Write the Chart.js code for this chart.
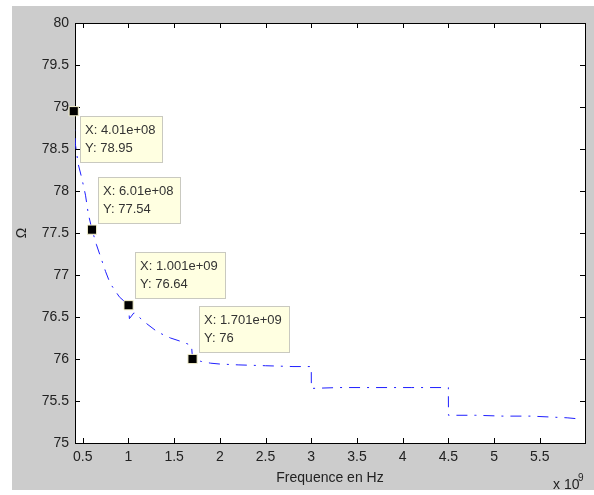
<!DOCTYPE html>
<html>
<head>
<meta charset="utf-8">
<script src="https://cdn.jsdelivr.net/npm/chart.js@4.4.1/dist/chart.umd.min.js"></script>
<style>
html, body { margin: 0; padding: 0; background: #fff; }
#wrap { position: relative; width: 594px; height: 495px; }
</style>
</head>
<body>
<div id="wrap"><canvas id="myChart" width="594" height="495"></canvas></div>
<script>
// frequency (Hz) and value
const freqHz = [
    4.01e8, 4.2e8, 4.5e8, 4.9e8, 5.3e8, 5.6e8, 6.01e8, 6.5e8, 7.0e8, 7.5e8,
    8.0e8, 9.0e8, 1.001e9, 1.01e9, 1.06e9, 1.2e9, 1.32e9, 1.46e9, 1.6e9, 1.69e9,
    1.701e9, 1.8e9, 1.9e9, 2.0e9, 2.2e9, 2.5e9, 2.8e9, 3.0e9, 3.001e9, 3.3e9,
    3.7e9, 4.1e9, 4.5e9, 4.501e9, 4.8e9, 5.1e9, 5.4e9, 5.6e9, 5.8e9, 5.9e9
]
const omega = [
    78.95, 78.55, 78.32, 78.15, 77.95, 77.73, 77.54, 77.36, 77.2, 77.04,
    76.9, 76.74, 76.64, 76.48, 76.55, 76.42, 76.32, 76.25, 76.2, 76.16,
    76.0, 75.97, 75.95, 75.94, 75.93, 75.92, 75.91, 75.91, 75.65, 75.66,
    75.66, 75.66, 75.66, 75.33, 75.33, 75.32, 75.32, 75.31, 75.3, 75.29
]

// data tips
const tipFreq = [4.01e8, 6.01e8, 1.001e9, 1.701e9]
const tipValue = [78.95, 77.54, 76.64, 76]

// tick positions
const xTicks = [0.5e9, 1e9, 1.5e9, 2e9, 2.5e9, 3e9, 3.5e9, 4e9, 4.5e9, 5e9, 5.5e9]
const yTicks = [75, 75.5, 76, 76.5, 77, 77.5, 78, 78.5, 79, 79.5, 80]

const xMin = 0.415e9
const xMax = 5.995e9
const yMin = 75
const yMax = 80

const FONT = '"Liberation Sans", Arial, sans-serif'
const TEXT = '#222'

function expLabel(v) {
    // 4.01e+08 style
    const parts = v.toExponential().split('e')
    const sign = parts[1][0]
    let e = parts[1].slice(1)
    if (e.length < 2) e = '0' + e
    return parts[0] + 'e' + sign + e
}

const matlabLook = {
    id: 'matlabLook',
    beforeDraw(chart) {
        const c = chart.ctx
        const a = chart.chartArea
        c.save()
        c.fillStyle = '#cccccc'
        c.fillRect(12, 6, 582, 484)
        c.fillStyle = '#ffffff'
        c.fillRect(a.left, a.top, a.right - a.left, a.bottom - a.top)
        c.restore()
    },
    beforeDatasetsDraw(chart) {
        const c = chart.ctx
        const a = chart.chartArea
        const xs = chart.scales.x
        const ys = chart.scales.y
        c.save()
        c.strokeStyle = '#000'
        c.lineWidth = 1
        c.beginPath()
        xs.ticks.forEach(t => {
            const px = Math.round(xs.getPixelForValue(t.value)) + 0.5
            c.moveTo(px, a.bottom); c.lineTo(px, a.bottom - 5)
            c.moveTo(px, a.top); c.lineTo(px, a.top + 5)
        })
        ys.ticks.forEach(t => {
            const py = Math.round(ys.getPixelForValue(t.value)) + 0.5
            c.moveTo(a.left, py); c.lineTo(a.left + 5, py)
            c.moveTo(a.right, py); c.lineTo(a.right - 5, py)
        })
        c.stroke()
        c.strokeRect(Math.round(a.left) + 0.5, Math.round(a.top) + 0.5,
            Math.round(a.right - a.left), Math.round(a.bottom - a.top))
        c.restore()
    },
    afterDatasetsDraw(chart) {
        const c = chart.ctx
        const xs = chart.scales.x
        const ys = chart.scales.y
        c.save()
        c.font = '13px ' + FONT
        c.textBaseline = 'middle'
        tipFreq.forEach((f, i) => {
            const px = xs.getPixelForValue(f)
            const py = ys.getPixelForValue(tipValue[i])
            const l1 = 'X: ' + expLabel(f)
            const l2 = 'Y: ' + tipValue[i]
            const w = Math.round(Math.max(c.measureText(l1).width, c.measureText(l2).width) + 12)
            const h = 46
            const bx = Math.round(px + 6)
            const by = i === 0 ? Math.round(py + 5) : Math.round(py - 7 - h)
            c.fillStyle = '#ffffe1'
            c.fillRect(bx, by, w, h)
            c.strokeStyle = '#c9c9c0'
            c.strokeRect(bx + 0.5, by + 0.5, w, h)
            c.fillStyle = '#333'
            c.fillText(l1, bx + 5, by + 14)
            c.fillText(l2, bx + 5, by + 32)
        })
        c.restore()
    },
    afterDraw(chart) {
        const c = chart.ctx
        c.save()
        c.fillStyle = TEXT
        c.textBaseline = 'alphabetic'
        c.font = '14px ' + FONT
        c.fillText('x 10', 553, 489)
        c.font = '10px ' + FONT
        c.fillText('9', 578, 481)
        c.restore()
    }
}

const ctx = document.getElementById('myChart').getContext('2d')

const myChart = new Chart(ctx, {
    type: 'line',
    data: {
        datasets: [
            {
                label: 'tips',
                data: tipFreq.map((f, i) => ({ x: f, y: tipValue[i] })),
                showLine: false,
                pointStyle: 'rect',
                pointRadius: 6.5,
                backgroundColor: '#000',
                borderColor: '#f7f3cf',
                borderWidth: 1,
                clip: false,
                order: 0,
            },
            {
                label: 'curve',
                data: freqHz.map((f, i) => ({ x: f, y: omega[i] })),
                borderColor: '#1f1fff',
                borderWidth: 1,
                borderDash: [11, 7, 2, 7],
                pointRadius: 0,
                tension: 0,
                fill: false,
                order: 1,
            },
        ],
    },
    options: {
        responsive: false,
        animation: false,
        events: [],
        layout: { padding: { left: 0, top: 23, right: 9, bottom: 0 }, autoPadding: false },
        plugins: { legend: { display: false }, tooltip: { enabled: false } },
        scales: {
            x: {
                type: 'linear',
                min: xMin,
                max: xMax,
                grid: { display: false, drawTicks: false },
                border: { display: false },
                afterBuildTicks: s => { s.ticks = xTicks.map(v => ({ value: v })) },
                ticks: {
                    autoSkip: false,
                    maxRotation: 0,
                    padding: 6,
                    color: TEXT,
                    font: { family: FONT, size: 14 },
                    callback: v => String(Math.round(v / 1e8) / 10),
                },
                title: {
                    display: true,
                    text: 'Frequence en Hz',
                    color: TEXT,
                    font: { family: FONT, size: 14 },
                    padding: { top: 0, bottom: 8 },
                },
                afterFit: s => { s.height = 52 },
            },
            y: {
                min: yMin,
                max: yMax,
                grid: { display: false, drawTicks: false },
                border: { display: false },
                afterBuildTicks: s => { s.ticks = yTicks.map(v => ({ value: v })) },
                ticks: {
                    autoSkip: false,
                    padding: 6,
                    color: TEXT,
                    font: { family: FONT, size: 14 },
                    callback: v => String(v),
                },
                title: {
                    display: true,
                    text: 'Ω',
                    color: TEXT,
                    font: { family: FONT, size: 14 },
                    padding: { top: 14, bottom: 0 },
                },
                afterFit: s => { s.width = 75 },
            },
        },
    },
    plugins: [matlabLook],
});
</script>
</body>
</html>
